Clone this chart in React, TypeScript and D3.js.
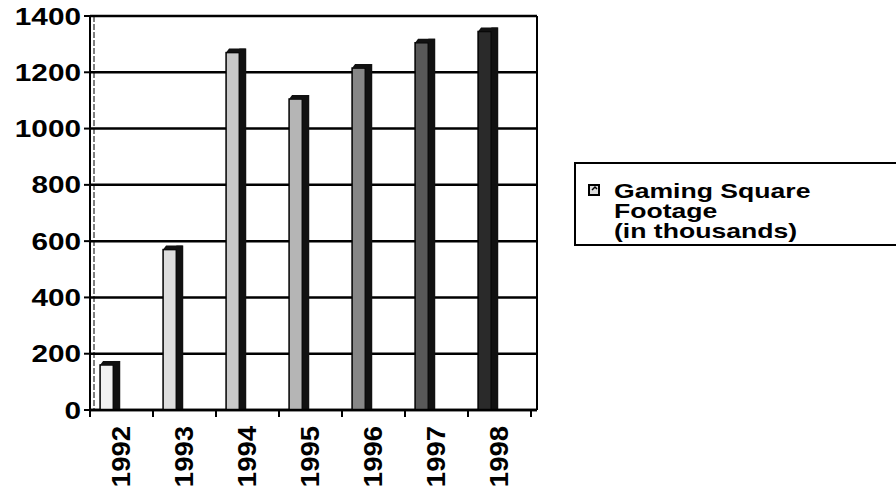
import { useMemo } from 'react';
import * as d3 from 'd3';

// Values
const years = ['1992', '1993', '1994', '1995', '1996', '1997', '1998'];
const squareFootage = [160, 570, 1270, 1105, 1215, 1305, 1345];
const yTicks = [0, 200, 400, 600, 800, 1000, 1200, 1400];
const legendLines = ['Gaming Square', 'Footage', '(in thousands)'];

const W = 896;
const H = 499;
const plot = { left: 90, right: 531, top: 16, bottom: 410, wall: 537 };
const font = '"Liberation Sans", Arial, sans-serif';

export default function App() {
    const x = useMemo(() => d3.scaleBand().domain(years).range([plot.left, plot.right]), []);
    const y = useMemo(() => d3.scaleLinear().domain([0, 1400]).range([plot.bottom, plot.top]), []);
    // front face gets darker towards the later years, like the scan
    const shade = d3.scaleLinear<string>().domain([0, 3, 6]).range(['#f2f2f2', '#b5b5b5', '#2a2a2a']);

    const bw = x.bandwidth();
    const frontW = bw * 0.21;
    const sideW = bw * 0.11;
    const capH = 4;

    return (
        <svg width={W} height={H} style={{ position: 'absolute', left: 0, top: 0, background: '#fff' }}>
            {/* grid lines */}
            {yTicks.map(t => (
                <line key={'g' + t} x1={plot.left} x2={plot.wall} y1={y(t)} y2={y(t)} stroke="#000" strokeWidth={2.5} />
            ))}
            <line x1={plot.wall} x2={plot.wall} y1={y(1400)} y2={y(0)} stroke="#000" strokeWidth={2} />
            <line x1={plot.left + 4} x2={plot.left + 4} y1={y(1400)} y2={y(0)} stroke="#000" strokeWidth={1} strokeDasharray="6 2" />

            {/* bars */}
            {years.map((yr, i) => {
                const x0 = (x(yr) || 0) + bw * 0.16;
                const top = y(squareFootage[i]);
                const base = y(0);
                return (
                    <g key={yr}>
                        <rect x={x0} y={top} width={frontW} height={base - top} fill={shade(i)} stroke="#000" strokeWidth={1.5} />
                        <rect x={x0 + frontW} y={top - capH} width={sideW} height={base - top + capH} fill="#111" />
                        <polygon
                            points={[
                                [x0, top],
                                [x0 + 3, top - capH],
                                [x0 + frontW + sideW, top - capH],
                                [x0 + frontW, top],
                            ].map(p => p.join(',')).join(' ')}
                            fill="#111"
                        />
                    </g>
                );
            })}

            {/* y axis */}
            <line x1={plot.left} x2={plot.left} y1={y(1400) - 1} y2={y(0) + 1} stroke="#000" strokeWidth={2} />
            {yTicks.map(t => (
                <g key={'y' + t} transform={`translate(${plot.left},${y(t)})`}>
                    <line x1={-6} x2={0} stroke="#000" strokeWidth={2} />
                    <text
                        transform="translate(-9,8.5) scale(1.24,1)"
                        textAnchor="end"
                        fontFamily={font}
                        fontWeight="bold"
                        fontSize={24}
                        fill="#000"
                    >
                        {t}
                    </text>
                </g>
            ))}

            {/* x axis */}
            <line x1={plot.left} x2={plot.wall} y1={y(0)} y2={y(0)} stroke="#000" strokeWidth={2.5} />
            {[...years.map(d => x(d) || 0), plot.right].map((px, i) => (
                <line key={'xt' + i} x1={px} x2={px} y1={y(0)} y2={y(0) + 7} stroke="#000" strokeWidth={2} />
            ))}
            {years.map(yr => (
                <text
                    key={'xl' + yr}
                    transform={`translate(${(x(yr) || 0) + bw / 2 + 8},${y(0) + 16}) rotate(-90) scale(1.1,1)`}
                    textAnchor="end"
                    fontFamily={font}
                    fontWeight="bold"
                    fontSize={25}
                    fill="#000"
                >
                    {yr}
                </text>
            ))}

            {/* legend */}
            <rect x={575} y={163} width={340} height={82} fill="#fff" stroke="#000" strokeWidth={2} />
            <rect x={589} y={185} width={10} height={10} fill="#ddd" stroke="#000" strokeWidth={2} />
            <path d="M592,190 l3,-3 l2,2" fill="none" stroke="#000" strokeWidth={1.5} />
            {legendLines.map((l, i) => (
                <text
                    key={l}
                    transform={`translate(614,${198 + i * 20}) scale(1.33,1)`}
                    fontFamily={font}
                    fontWeight="bold"
                    fontSize={20}
                    fill="#000"
                >
                    {l}
                </text>
            ))}
        </svg>
    );
}
